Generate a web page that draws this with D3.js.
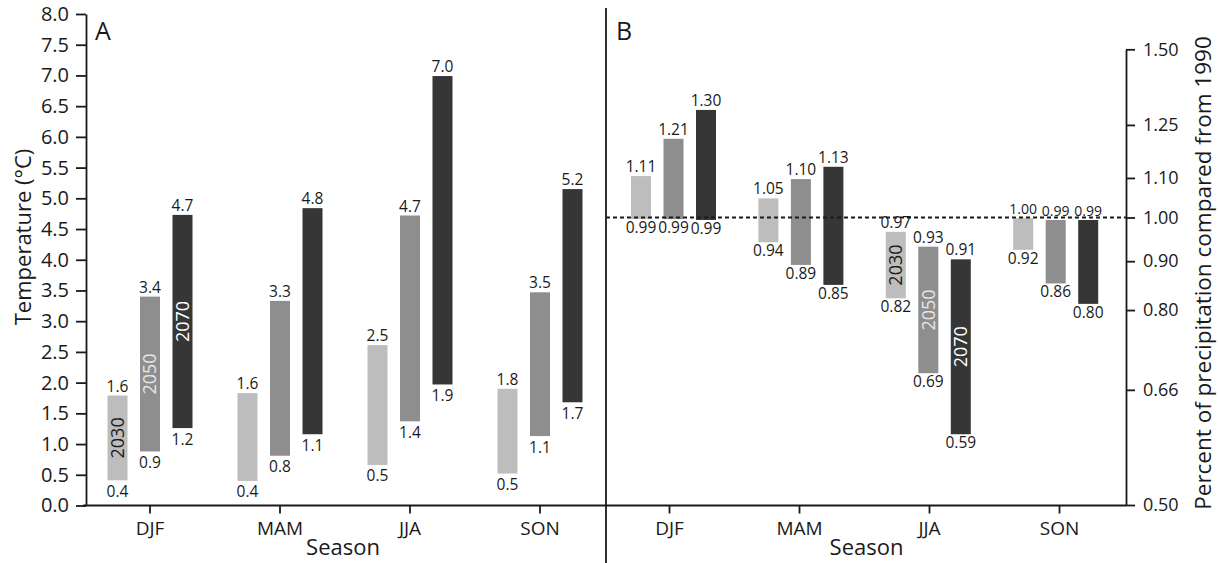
<!DOCTYPE html>
<html>
<head>
<meta charset="utf-8">
<script src="https://cdn.jsdelivr.net/npm/d3@7"></script>
<style>
  html, body { margin: 0; padding: 0; background: #fff; }
  svg { display: block; font-family: "Open Sans", "Noto Sans", sans-serif; }
</style>
</head>
<body>
<svg id="chart" width="1219" height="563"></svg>
<script>
// ---------- DATA ----------
const seasons = ["DJF", "MAM", "JJA", "SON"];
const periods = ["2030", "2050", "2070"];

// Panel A: temperature change ranges (°C), bar extents as drawn
const temp2030Low  = [0.41, 0.40, 0.66, 0.52];
const temp2030High = [1.79, 1.83, 2.61, 1.90];
const temp2050Low  = [0.88, 0.81, 1.37, 1.13];
const temp2050High = [3.40, 3.33, 4.72, 3.47];
const temp2070Low  = [1.26, 1.16, 1.97, 1.68];
const temp2070High = [4.73, 4.84, 6.99, 5.15];

// Panel A: printed value labels
const tempLabel2030Low  = ["0.4", "0.4", "0.5", "0.5"];
const tempLabel2030High = ["1.6", "1.6", "2.5", "1.8"];
const tempLabel2050Low  = ["0.9", "0.8", "1.4", "1.1"];
const tempLabel2050High = ["3.4", "3.3", "4.7", "3.5"];
const tempLabel2070Low  = ["1.2", "1.1", "1.9", "1.7"];
const tempLabel2070High = ["4.7", "4.8", "7.0", "5.2"];

// Panel B: precipitation ratio ranges, bar extents as drawn
const prec2030Low  = [0.996, 0.942, 0.823, 0.925];
const prec2030High = [1.105, 1.047, 0.966, 0.998];
const prec2050Low  = [0.996, 0.892, 0.687, 0.853];
const prec2050High = [1.209, 1.097, 0.932, 0.994];
const prec2070Low  = [0.994, 0.850, 0.593, 0.812];
const prec2070High = [1.296, 1.130, 0.904, 0.994];

// Panel B: printed value labels
const precLabel2030Low  = ["0.99", "0.94", "0.82", "0.92"];
const precLabel2030High = ["1.11", "1.05", "0.97", "1.00"];
const precLabel2050Low  = ["0.99", "0.89", "0.69", "0.86"];
const precLabel2050High = ["1.21", "1.10", "0.93", "0.99"];
const precLabel2070Low  = ["0.99", "0.85", "0.59", "0.80"];
const precLabel2070High = ["1.30", "1.13", "0.91", "0.99"];

// Axis ticks
const tempTicks = d3.range(0, 8.01, 0.5);
const precTicks = [0.50, 0.66, 0.80, 0.90, 1.00, 1.10, 1.25, 1.50];
const precBaseline = 1.0;

// Which season carries the rotated period labels in each panel
const tempNamedSeason = "DJF";
const precNamedSeason = "JJA";

// ---------- STYLE / LAYOUT ----------
const colors = { "2030": "#bdbdbd", "2050": "#8e8e8e", "2070": "#363636" };
const inBarText = { "2030": "#1a1a1a", "2050": "#e6e6e6", "2070": "#ffffff" };
const ink = "#1a1a1a";
const barW = 20, barGap = 32.5;

const svg = d3.select("#chart");

const xA = d3.scaleBand().domain(seasons).range([85, 605]);
const xB = d3.scaleBand().domain(seasons).range([604.5, 1124.5]);
const xBbars = d3.scaleBand().domain(seasons).range([609.8, 1119.4]);
const yA = d3.scaleLinear().domain([0, 8]).range([505.5, 14]);
const yB = d3.scaleLog().domain([0.5, 1.5]).range([505, 49.3]);

const axisY = 505.5, axisLeftX = 86, axisRightX = 1126, dividerX = 606;

// build records
function build(lows, highs, labLo, labHi) {
  const out = [];
  periods.forEach((p, pi) => {
    seasons.forEach((s, si) => {
      out.push({ season: s, period: p, pi, lo: lows[pi][si], hi: highs[pi][si],
                 labLo: labLo[pi][si], labHi: labHi[pi][si] });
    });
  });
  return out;
}
const tempData = build([temp2030Low, temp2050Low, temp2070Low],
                       [temp2030High, temp2050High, temp2070High],
                       [tempLabel2030Low, tempLabel2050Low, tempLabel2070Low],
                       [tempLabel2030High, tempLabel2050High, tempLabel2070High]);
const precData = build([prec2030Low, prec2050Low, prec2070Low],
                       [prec2030High, prec2050High, prec2070High],
                       [precLabel2030Low, precLabel2050Low, precLabel2070Low],
                       [precLabel2030High, precLabel2050High, precLabel2070High]);

function drawBars(data, xs, ys, namedSeason, lowOff, highSmallCheck) {
  const g = svg.append("g");
  const cx = d => xs(d.season) + xs.bandwidth() / 2 + (d.pi - 1) * barGap;
  g.selectAll("rect").data(data).join("rect")
    .attr("x", d => cx(d) - barW / 2)
    .attr("y", d => ys(d.hi))
    .attr("width", barW)
    .attr("height", d => ys(d.lo) - ys(d.hi))
    .attr("fill", d => colors[d.period]);
  g.selectAll("text.hi").data(data).join("text").attr("class", "hi")
    .attr("x", d => cx(d)).attr("y", d => ys(d.hi) - 4)
    .attr("text-anchor", "middle")
    .attr("font-size", d => highSmallCheck(d) ? 14 : 15.5)
    .attr("fill", ink).text(d => d.labHi);
  g.selectAll("text.lo").data(data).join("text").attr("class", "lo")
    .attr("x", d => cx(d)).attr("y", d => ys(d.lo) + lowOff)
    .attr("text-anchor", "middle").attr("font-size", 15.5)
    .attr("fill", ink).text(d => d.labLo);
  g.selectAll("text.nm").data(data.filter(d => d.season === namedSeason)).join("text")
    .attr("class", "nm")
    .attr("transform", d => `translate(${cx(d)},${(ys(d.lo) + ys(d.hi)) / 2}) rotate(-90)`)
    .attr("text-anchor", "middle").attr("dy", "0.36em")
    .attr("font-size", 18).attr("fill", d => inBarText[d.period])
    .text(d => d.period);
}

drawBars(tempData, xA, yA, tempNamedSeason, 16.5, () => false);
drawBars(precData, xBbars, yB, precNamedSeason, 14, d => d.hi < 1.0 && d.hi > 0.98);

// dashed baseline at 1.00
svg.append("line")
  .attr("x1", dividerX).attr("x2", axisRightX)
  .attr("y1", yB(precBaseline)).attr("y2", yB(precBaseline))
  .attr("stroke", ink).attr("stroke-width", 2).attr("stroke-dasharray", "4,3");

// ---------- AXES ----------
function styleAxis(g, fs) {
  g.select(".domain").attr("stroke", ink).attr("stroke-width", 1.8);
  g.selectAll(".tick line").attr("stroke", ink).attr("stroke-width", 1.8);
  g.selectAll(".tick text").attr("fill", ink).attr("font-size", fs)
    .attr("font-family", "'Open Sans', sans-serif");
}

// Left temperature axis
const gyA = svg.append("g").attr("transform", `translate(${axisLeftX},0)`)
  .call(d3.axisLeft(yA).tickValues(tempTicks).tickFormat(d3.format(".1f"))
        .tickSize(10).tickPadding(7).tickSizeOuter(0));
styleAxis(gyA, 20);

// Right precipitation axis
const gyB = svg.append("g").attr("transform", `translate(${axisRightX},0)`)
  .call(d3.axisRight(yB).tickValues(precTicks).tickFormat(d3.format(".2f"))
        .tickSize(9).tickPadding(8).tickSizeOuter(0));
styleAxis(gyB, 18);

// Bottom axes (tick marks + labels)
[xA, xB].forEach(xs => {
  const g = svg.append("g").attr("transform", `translate(0,${axisY})`)
    .call(d3.axisBottom(xs).tickSize(8).tickPadding(8).tickSizeOuter(0));
  styleAxis(g, 19);
  g.select(".domain").remove();
});
// continuous x-axis line
svg.append("line")
  .attr("x1", axisLeftX - 3).attr("x2", axisRightX)
  .attr("y1", axisY).attr("y2", axisY)
  .attr("stroke", ink).attr("stroke-width", 1.8);

// panel divider
svg.append("line")
  .attr("x1", dividerX).attr("x2", dividerX).attr("y1", 8).attr("y2", 563)
  .attr("stroke", ink).attr("stroke-width", 1.8);

// ---------- TEXT ----------
svg.append("text").attr("x", 95).attr("y", 40).attr("font-size", 25).attr("fill", ink).text("A");
svg.append("text").attr("x", 616).attr("y", 40).attr("font-size", 25).attr("fill", ink).text("B");

svg.append("text").attr("x", (xA.range()[0] + xA.range()[1]) / 2 - 2).attr("y", 555)
  .attr("text-anchor", "middle").attr("font-size", 22).attr("fill", ink).text("Season");
svg.append("text").attr("x", (xB.range()[0] + xB.range()[1]) / 2 + 2).attr("y", 555)
  .attr("text-anchor", "middle").attr("font-size", 22).attr("fill", ink).text("Season");

svg.append("text").attr("transform", "translate(31,237) rotate(-90)")
  .attr("text-anchor", "middle").attr("font-size", 22).attr("fill", ink)
  .text("Temperature (°C)");
svg.append("text").attr("transform", "translate(1211,273) rotate(-90)")
  .attr("text-anchor", "middle").attr("font-size", 22.5).attr("fill", ink)
  .text("Percent of precipitation compared from 1990");
</script>
</body>
</html>
